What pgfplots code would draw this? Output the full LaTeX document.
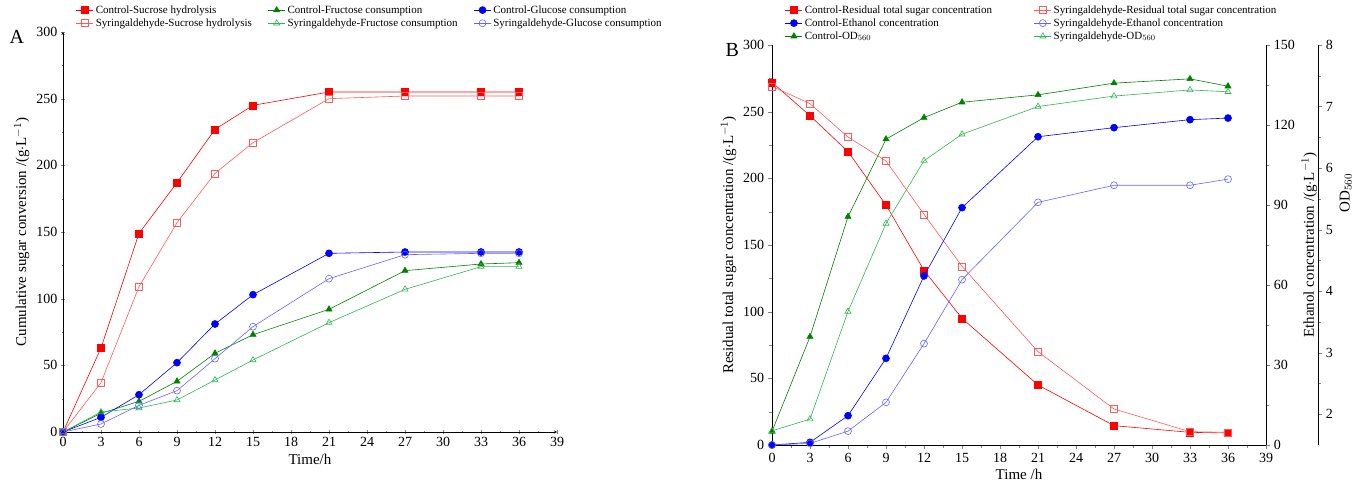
\documentclass[border=0pt]{standalone}
\usepackage{pgfplots}
\pgfplotsset{compat=1.18}
\usepackage{fontspec}
\setmainfont{Liberation Serif}
\definecolor{cr}{RGB}{255,0,0}
\definecolor{sr}{RGB}{255,90,90}
\definecolor{cg}{RGB}{0,128,0}
\definecolor{sg}{RGB}{50,180,80}
\definecolor{cb}{RGB}{0,0,255}
\definecolor{sb}{RGB}{100,100,255}
\pgfplotsset{
  base/.style={scale only axis, width=494pt, height=400pt, xmin=0, xmax=39,
    xtick={0,3,...,39}, tick align=outside, minor x tick num=1, minor y tick num=1,
    /pgf/number format/assume math mode=true,
    tick label style={font=\fontsize{14}{14}\selectfont},
    label style={font=\fontsize{15}{15}\selectfont},
    legend style={draw=none, fill=none, font=\fontsize{11}{12}\selectfont},
    every axis plot/.append style={line width=0.6pt, mark size=3.5pt}},
  cf/.style={color=#1, mark options={fill=#1, solid}},
  op/.style={color=#1, mark options={fill=white, solid}},
}
\begin{document}
\begin{tikzpicture}[x=1pt,y=1pt]
\useasboundingbox (0,0) rectangle (1362,501);
\node[font=\fontsize{20}{20}\selectfont, anchor=north west] at (6,474) {A};
\node[font=\fontsize{20}{20}\selectfont, anchor=north west] at (722,461) {B};
% Panel A
\begin{axis}[base, at={(63pt,69pt)}, anchor=south west, axis lines=left,
  ymin=0, ymax=300, ytick={0,50,...,300},
  xlabel={Time/h}, ylabel={Cumulative sugar conversion /(g$\cdot$L$^{-1}$)},
  legend columns=3, legend style={at={(0.02,1.0)}, anchor=south west,
    /tikz/every even column/.append style={column sep=14pt}},
  legend cell align=left]
\addplot[cf=cr, mark=square*] coordinates {(0,0)(3,63)(6,149)(9,187)(12,227)(15,245)(21,255)(27,255)(33,255)(36,255)};
\addlegendentry{Control-Sucrose hydrolysis}
\addplot[cf=cg, mark=triangle*] coordinates {(0,0)(3,14)(6,23)(9,38)(12,59)(15,73)(21,92)(27,121)(33,126)(36,127)};
\addlegendentry{Control-Fructose consumption}
\addplot[cf=cb, mark=*] coordinates {(0,0)(3,11)(6,28)(9,52)(12,81)(15,103)(21,134)(27,135)(33,135)(36,135)};
\addlegendentry{Control-Glucose consumption}
\addplot[op=sr, mark=square] coordinates {(0,0)(3,37)(6,109)(9,157)(12,194)(15,217)(21,250)(27,252)(33,252)(36,252)};
\addlegendentry{Syringaldehyde-Sucrose hydrolysis}
\addplot[op=sg, mark=triangle] coordinates {(0,0)(3,15)(6,18)(9,24)(12,39)(15,54)(21,82)(27,107)(33,124)(36,124)};
\addlegendentry{Syringaldehyde-Fructose consumption}
\addplot[op=sb, mark=o] coordinates {(0,0)(3,6)(6,20)(9,31)(12,55)(15,79)(21,115)(27,133)(33,134)(36,134)};
\addlegendentry{Syringaldehyde-Glucose consumption}
\end{axis}
% Panel B left axis
\begin{axis}[base, at={(772pt,56pt)}, anchor=south west, axis x line*=bottom, axis y line*=left,
  ymin=0, ymax=300, ytick={0,50,...,300},
  xlabel={Time /h}, ylabel={Residual total sugar concentration /(g$\cdot$L$^{-1}$)}]
\addplot[cf=cr, mark=square*] coordinates {(0,272)(3,247)(6,220)(9,180)(12,131)(15,95)(21,45)(27,14.5)(33,9.5)(36,9)};
\addplot[op=sr, mark=square] coordinates {(0,269)(3,256)(6,231)(9,213)(12,173)(15,134)(21,70)(27,27)(33,10)(36,9.5)};
\end{axis}
% Ethanol axis
\begin{axis}[base, at={(772pt,56pt)}, anchor=south west, axis x line=none, axis y line*=right,
  ymin=0, ymax=150, ytick={0,30,...,150},
  ylabel={Ethanol concentration /(g$\cdot$L$^{-1}$)}]
\addplot[cf=cb, mark=*] coordinates {(0,0)(3,1)(6,11)(9,32.5)(12,63.4)(15,89)(21,115.6)(27,119)(33,122)(36,122.6)};
\addplot[op=sb, mark=o] coordinates {(0,0)(3,0.6)(6,5.2)(9,16)(12,38)(15,62)(21,91)(27,97.4)(33,97.4)(36,99.7)};
\end{axis}
% OD axis
\begin{axis}[base, at={(772pt,56pt)}, anchor=south west, axis x line=none, axis y line*=right,
  ymin=1.5, ymax=8, ytick={2,3,...,8}, minor y tick num=1,
  y axis line style={xshift=52pt}, ytick style={xshift=52pt},
  yticklabel style={xshift=52pt}, ylabel style={xshift=52pt},
  ylabel={OD$_{560}$},
  legend columns=2, legend style={at={(0.02,1.0)}, anchor=south west,
    /tikz/every even column/.append style={column sep=40pt}},
  legend cell align=left]
\addlegendimage{cf=cr, mark=square*}\addlegendentry{Control-Residual total sugar concentration}
\addlegendimage{op=sr, mark=square}\addlegendentry{Syringaldehyde-Residual total sugar concentration}
\addlegendimage{cf=cb, mark=*}\addlegendentry{Control-Ethanol concentration}
\addlegendimage{op=sb, mark=o}\addlegendentry{Syringaldehyde-Ethanol concentration}
\addlegendimage{cf=cg, mark=triangle*}\addlegendentry{Control-OD$_{560}$}
\addlegendimage{op=sg, mark=triangle}\addlegendentry{Syringaldehyde-OD$_{560}$}
\addplot[cf=cg, mark=triangle*, forget plot] coordinates {(0,1.72)(3,3.26)(6,5.21)(9,6.47)(12,6.82)(15,7.07)(21,7.19)(27,7.38)(33,7.45)(36,7.33)};
\addplot[op=sg, mark=triangle, forget plot] coordinates {(0,1.73)(3,1.92)(6,3.67)(9,5.1)(12,6.12)(15,6.55)(21,7.0)(27,7.17)(33,7.27)(36,7.24)};
\end{axis}
\end{tikzpicture}
\end{document}
